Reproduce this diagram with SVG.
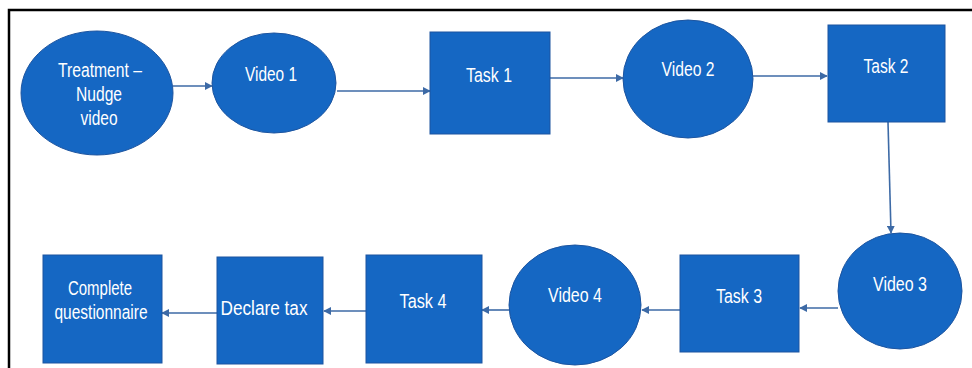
<svg xmlns="http://www.w3.org/2000/svg" width="972" height="368" viewBox="0 0 972 368">
<defs>
<style>
.n{fill:#1567c3;stroke:#1d55a0;stroke-width:1}
.t{font-family:"Liberation Sans",Arial,sans-serif;font-size:20.5px;fill:#ffffff;text-anchor:middle}
.c{stroke:#3d6aa6;stroke-width:1.6;fill:none;marker-end:url(#ah)}
</style>
<marker id="ah" viewBox="0 0 10 10" refX="9" refY="5" markerWidth="8" markerHeight="8" orient="auto" markerUnits="userSpaceOnUse">
<path d="M0,0 L10,5 L0,10 z" fill="#3d6aa6"/>
</marker>
</defs>
<rect x="0" y="0" width="972" height="368" fill="#ffffff"/>
<rect x="9" y="10" width="975" height="380" fill="none" stroke="#000" stroke-width="2.5"/>
<g id="connectors">
<line class="c" x1="173" y1="86" x2="212" y2="86"/>
<line class="c" x1="337" y1="91" x2="430" y2="91"/>
<line class="c" x1="550" y1="78" x2="623" y2="78"/>
<line class="c" x1="753" y1="76" x2="827" y2="76"/>
<line class="c" x1="888" y1="122" x2="891" y2="233"/>
<line class="c" x1="838" y1="308" x2="800" y2="308"/>
<line class="c" x1="680" y1="310" x2="642" y2="310"/>
<line class="c" x1="509" y1="310" x2="482" y2="310"/>
<line class="c" x1="366" y1="311" x2="324" y2="311"/>
<line class="c" x1="217" y1="313" x2="162" y2="313"/>
</g>
<g id="treatment">
<ellipse class="n" cx="97" cy="93" rx="76" ry="62"/>
<text class="t" x="100" y="77" textLength="84" lengthAdjust="spacingAndGlyphs">Treatment –</text>
<text class="t" x="99" y="101" textLength="46" lengthAdjust="spacingAndGlyphs">Nudge</text>
<text class="t" x="99" y="125" textLength="37" lengthAdjust="spacingAndGlyphs">video</text>
</g>
<g id="video1">
<ellipse class="n" cx="274" cy="83" rx="62" ry="50"/>
<text class="t" x="271" y="81" textLength="52" lengthAdjust="spacingAndGlyphs">Video 1</text>
</g>
<g id="task1">
<rect class="n" x="430" y="32" width="120" height="102"/>
<text class="t" x="489" y="82" textLength="46" lengthAdjust="spacingAndGlyphs">Task 1</text>
</g>
<g id="video2">
<ellipse class="n" cx="688" cy="79" rx="65" ry="59"/>
<text class="t" x="688" y="76" textLength="53" lengthAdjust="spacingAndGlyphs">Video 2</text>
</g>
<g id="task2">
<rect class="n" x="828" y="25" width="117" height="97"/>
<text class="t" x="886" y="73" textLength="45" lengthAdjust="spacingAndGlyphs">Task 2</text>
</g>
<g id="video3">
<ellipse class="n" cx="900" cy="291" rx="62" ry="58"/>
<text class="t" x="900" y="291" textLength="54" lengthAdjust="spacingAndGlyphs">Video 3</text>
</g>
<g id="task3">
<rect class="n" x="680" y="255" width="119" height="97"/>
<text class="t" x="739" y="303" textLength="46" lengthAdjust="spacingAndGlyphs">Task 3</text>
</g>
<g id="video4">
<ellipse class="n" cx="575" cy="305" rx="66" ry="60"/>
<text class="t" x="575" y="302" textLength="54" lengthAdjust="spacingAndGlyphs">Video 4</text>
</g>
<g id="task4">
<rect class="n" x="366" y="255" width="116" height="108"/>
<text class="t" x="423" y="308" textLength="47" lengthAdjust="spacingAndGlyphs">Task 4</text>
</g>
<g id="declare">
<rect class="n" x="217" y="257" width="106" height="107"/>
<text class="t" x="264" y="315" textLength="87" lengthAdjust="spacingAndGlyphs">Declare tax</text>
</g>
<g id="questionnaire">
<rect class="n" x="43" y="255" width="119" height="108"/>
<text class="t" x="100" y="295" textLength="64" lengthAdjust="spacingAndGlyphs">Complete</text>
<text class="t" x="101" y="319" textLength="93" lengthAdjust="spacingAndGlyphs">questionnaire</text>
</g>
</svg>
